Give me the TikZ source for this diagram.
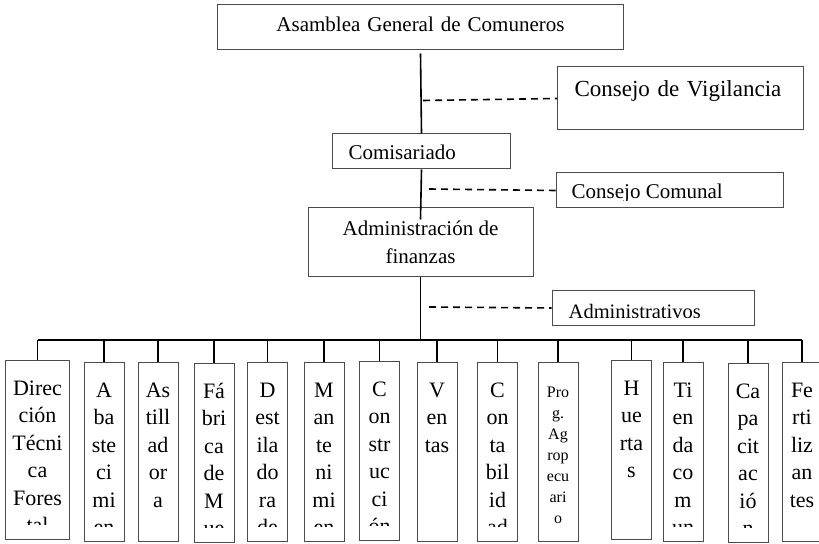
\documentclass[tikz,border=0pt]{standalone}
\usepackage{fontspec}
\setmainfont{Liberation Serif}

\tikzset{
  caja/.style={draw=black!70, line width=1bp, inner ysep=0pt, font=\fontsize{21bp}{28bp}\selectfont},
  unidad/.style={draw=black!70, line width=1bp, inner sep=0pt, minimum width=40bp, minimum height=179bp, anchor=north},
  linea/.style={anchor=base, inner sep=0pt, font=\fontsize{22bp}{26bp}\selectfont},
  texto/.style={anchor=base west, inner sep=0pt},
  enlace/.style={line width=1.6bp},
  punteado/.style={line width=1.6bp, dash pattern=on 7bp off 5bp}
}

\newcommand{\unidad}[5][27.5]{%
  \node[unidad] (#2) at (#3,#4) {};
  \begin{scope}
    \clip (#2.north west) rectangle ([yshift=16bp]#2.south east);
    \foreach \w [count=\i] in {#5}
      \node[linea] (#2-\i) at ([yshift={-35bp-(\i-1)*#1bp}]#2.north) {\w};
  \end{scope}
  \draw[enlace] (#2.north) -- (#2.north |- bus);
}

\begin{document}
\begin{tikzpicture}[x=1bp, y=-1bp]
    \useasboundingbox (0,0) rectangle (819,544);
    \node[caja, anchor=base west, inner xsep=0pt, text width=406bp, align=center, text height=27bp, text depth=18bp] (asam) at (217,32) {Asamblea General de Comuneros};
    \node[caja, anchor=base west, inner xsep=17bp, text width=212bp, align=left, text height=30bp, text depth=33bp, font=\fontsize{23bp}{28bp}\selectfont] (vig) at (557,97) {Consejo de Vigilancia};
    \node[caja, anchor=base west, inner xsep=16bp, text width=146bp, align=left, text height=26bp, text depth=9bp] (comi) at (332,160) {Comisariado};
    \node[caja, minimum width=227bp, minimum height=35bp] (coco) at (669.5,190.5) {};
    \node[caja, minimum width=225bp, minimum height=68bp, align=center] (admin) at (420.5,242) {Administración de\\finanzas};
    \node[caja, minimum width=202bp, minimum height=34bp] (admv) at (653,308) {};
    \begin{scope}
      \clip (coco.north west) rectangle ([yshift=8bp]coco.south east);
      \node[texto, font=\fontsize{21bp}{28bp}\selectfont] (coco-t) at ([xshift=16bp,yshift=-26bp]coco.north west) {Consejo Comunal};
    \end{scope}
    \begin{scope}
      \clip (admv.north west) rectangle ([yshift=8bp]admv.south east);
      \node[texto, font=\fontsize{20.5bp}{28bp}\selectfont] (admv-t) at ([xshift=17bp,yshift=-28bp]admv.north west) {Administrativos};
    \end{scope}

    \coordinate (v1) at (423,100.5);
    \coordinate (v2) at (429,189);
    \coordinate (v3) at (429,307);
    \coordinate (bus) at (420,340);
    \draw[enlace] ([yshift=-3bp]asam.south) -- (comi.north);
    \draw[enlace] (comi.south) -- ([yshift=-12bp]admin.north);
    \draw[enlace] (admin.south) -- (admin.south |- bus);
    \draw[punteado] (v1) -- (vig.west);
    \draw[punteado] (v2) -- (coco.west);
    \draw[punteado] (v3) -- (admv.west);

    \begin{scope}[unidad/.append style={minimum width=63bp}]
      \unidad{dir}{37.5}{360}{Direc,ción,Técni,ca,Fores,tal}
    \end{scope}
    \unidad{aba}{104}{362}{A,ba,ste,ci,mi,en}
    \unidad{ast}{158}{362}{As,till,ad,or,a}
    \unidad{fab}{214}{363}{Fá,bri,ca,de,M,ue}
    \unidad{des}{267.5}{362}{D,est,ila,do,ra,de}
    \unidad{man}{324}{362}{M,an,te,ni,mi,en}
    \unidad{con}{379.5}{361}{C,on,str,uc,ci,ón}
    \unidad{ven}{437}{362}{V,en,tas}
    \unidad{cnt}{497.5}{362}{C,on,ta,bil,id,ad}
    \begin{scope}[linea/.append style={font=\fontsize{16bp}{18bp}\selectfont}]
      \unidad[21]{pro}{558}{362}{Pro,g.,Ag,rop,ecu,ari,o}
    \end{scope}
    \unidad{hue}{631.5}{360}{H,ue,rta,s}
    \unidad{tie}{683}{362}{Ti,en,da,co,m,un}
    \unidad{cap}{748}{363}{Ca,pa,cit,ac,ió,n}
    \unidad{fer}{802}{362}{Fe,rti,liz,an,tes}
    \draw[enlace] (dir.north |- bus) -- (fer.north |- bus);
\end{tikzpicture}
\end{document}
